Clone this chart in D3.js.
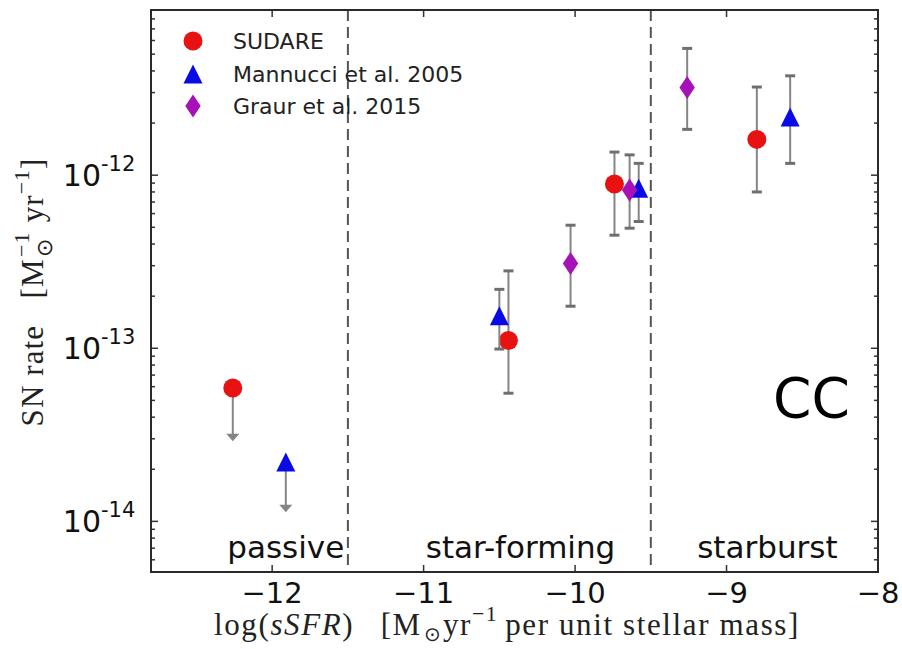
<!DOCTYPE html>
<html>
<head>
<meta charset="utf-8">
<script src="https://cdn.jsdelivr.net/npm/d3@7"></script>
<style>
  html, body { margin: 0; padding: 0; background: #fff; }
  svg { display: block; }
</style>
</head>
<body>
<svg id="chart" width="902" height="649"></svg>
<script>
// Core-collapse SN rate per unit stellar mass versus specific star-formation rate.
// x: log(sSFR); rates in SN per solar mass per year.
const sudareX = [-12.26, -10.44, -9.74, -8.80];
const sudareRate = [5.9e-14, 1.11e-13, 8.9e-13, 1.61e-12];
const sudareLow = [2.9e-14, 5.5e-14, 4.5e-13, 8.0e-13];
const sudareHigh = [null, 2.8e-13, 1.36e-12, 3.23e-12];
const sudareUpperLimit = [true, false, false, false];

const mannucciX = [-11.91, -10.50, -9.58, -8.58];
const mannucciRate = [2.2e-14, 1.54e-13, 8.4e-13, 2.17e-12];
const mannucciLow = [1.13e-14, 9.9e-14, 5.4e-13, 1.17e-12];
const mannucciHigh = [null, 2.19e-13, 1.17e-12, 3.75e-12];
const mannucciUpperLimit = [true, false, false, false];

const graurX = [-10.03, -9.64, -9.26];
const graurRate = [3.09e-13, 8.2e-13, 3.21e-12];
const graurLow = [1.75e-13, 4.94e-13, 1.84e-12];
const graurHigh = [5.14e-13, 1.31e-12, 5.4e-12];
const graurUpperLimit = [false, false, false];

const seriesNames = ["SUDARE", "Mannucci et al. 2005", "Graur et al. 2015"];
const xTickValues = [-12, -11, -10, -9, -8];
const yTickValues = [1e-14, 1e-13, 1e-12];
const yTickExponents = ["-14", "-13", "-12"];
const regionBounds = [-11.5, -9.5];
const regionNames = ["passive", "star-forming", "starburst"];
const regionLabelX = [-11.91, -10.36, -8.73];
const panelTag = "CC";

(function () {
const svg = d3.select("#chart");
const pL = 151, pR = 878, pT = 10, pB = 572;

const x = d3.scaleLinear().domain([-12.8, -8]).range([pL, pR]);
const y = d3.scaleLog().domain([5.1e-15, 9e-12]).range([pB, pT]);

const SANS = "DejaVu Sans, Verdana, sans-serif";
const SERIF = "Liberation Serif, Times New Roman, serif";
const ERR = "#858585";

// region dividers
svg.append("g").selectAll("line").data(regionBounds).join("line")
  .attr("x1", d => x(d)).attr("x2", d => x(d))
  .attr("y1", pT).attr("y2", pB)
  .attr("stroke", "#555").attr("stroke-width", 2)
  .attr("stroke-dasharray", "11,6");

// region labels
svg.append("g").selectAll("text").data(regionNames).join("text")
  .attr("x", (d, i) => x(regionLabelX[i])).attr("y", 558)
  .attr("text-anchor", "middle")
  .attr("font-family", SANS).attr("font-size", 31).attr("fill", "#111")
  .text(d => d);

svg.append("text").attr("x", 773).attr("y", 417)
  .attr("font-family", SANS).attr("font-size", 55).attr("fill", "#000")
  .text(panelTag);

// axis ticks (inward, all four sides)
const axisG = svg.append("g").attr("stroke", "#333").attr("stroke-width", 1.5);
const majorLen = 7, minorLen = 4;
xTickValues.forEach(v => {
  const px = x(v);
  if (px > pL + 1 && px < pR - 1) {
    axisG.append("line").attr("x1", px).attr("x2", px).attr("y1", pB).attr("y2", pB - majorLen);
    axisG.append("line").attr("x1", px).attr("x2", px).attr("y1", pT).attr("y2", pT + majorLen);
  }
});
const [yMin, yMax] = y.domain();
for (let e = -15; e <= -12; e++) {
  for (let k = 1; k <= 9; k++) {
    const v = k * Math.pow(10, e);
    if (v < yMin || v > yMax) continue;
    const py = y(v), len = k === 1 ? majorLen : minorLen;
    axisG.append("line").attr("x1", pL).attr("x2", pL + len).attr("y1", py).attr("y2", py);
    axisG.append("line").attr("x1", pR).attr("x2", pR - len).attr("y1", py).attr("y2", py);
  }
}

// tick labels
svg.append("g").selectAll("text").data(xTickValues).join("text")
  .attr("x", d => x(d)).attr("y", 603)
  .attr("text-anchor", "middle")
  .attr("font-family", SANS).attr("font-size", 29).attr("fill", "#111")
  .text(d => d3.format("d")(d).replace("-", "\u2212"));

const yLab = svg.append("g");
yTickValues.forEach((v, i) => {
  const py = y(v);
  yLab.append("text").attr("x", 101).attr("y", py + 11)
    .attr("text-anchor", "end")
    .attr("font-family", SANS).attr("font-size", 30).attr("fill", "#111")
    .text("10");
  yLab.append("text").attr("x", 101).attr("y", py - 4)
    .attr("font-family", SANS).attr("font-size", 21).attr("fill", "#111")
    .text(yTickExponents[i]);
});

// frame
svg.append("rect").attr("x", pL).attr("y", pT)
  .attr("width", pR - pL).attr("height", pB - pT)
  .attr("fill", "none").attr("stroke", "#2a2a2a").attr("stroke-width", 2);

// text made of runs (sub/superscripts), stretched to a given width
function mathText(parent, runs, opts) {
  const g = parent.append("g");
  const base = opts.size;
  const els = runs.map(r => g.append("text")
    .attr("font-family", SERIF)
    .attr("font-size", base * (r.scale || 1))
    .attr("font-style", r.italic ? "italic" : null)
    .attr("fill", "#222")
    .text(r.t));
  const nChars = runs.reduce((s, r) => s + r.t.length, 0);
  function layout(ls) {
    let cur = 0, prevStart = 0;
    els.forEach((el, i) => {
      const r = runs[i];
      el.attr("letter-spacing", ls);
      const start = r.stack ? prevStart : cur + (r.gap || 0) * base;
      el.attr("x", start).attr("y", -(r.shift || 0) * base);
      const w = el.node().getComputedTextLength();
      if (!r.stack) prevStart = start;
      cur = Math.max(cur, start + w);
    });
    return cur;
  }
  const w0 = layout(0);
  const ls = (opts.width - w0) / nChars;
  const w1 = layout(ls);
  g.attr("transform", opts.rotate
    ? `translate(${opts.x},${opts.y}) rotate(-90) translate(${-w1 / 2},0)`
    : `translate(${opts.x - w1 / 2},${opts.y})`);
  return g;
}

mathText(svg, [
  { t: "log(" },
  { t: "sSFR", italic: true },
  { t: ")" },
  { t: "[M", gap: 0.85 },
  { t: "\u2299", scale: 0.65, shift: -0.2, gap: 0.08 },
  { t: "yr" },
  { t: "\u22121", scale: 0.7, shift: 0.45 },
  { t: "per unit stellar mass]", gap: 0.22 }
], { size: 31, x: 507, y: 635, width: 586 });

mathText(svg, [
  { t: "SN rate" },
  { t: "[M", gap: 0.85 },
  { t: "\u2299", scale: 0.7, shift: -0.3, gap: 0.05 },
  { t: "\u22121", scale: 0.7, shift: 0.45, stack: true },
  { t: "yr", gap: 0.3 },
  { t: "\u22121", scale: 0.7, shift: 0.45 },
  { t: "]" }
], { size: 31, x: 43, y: 292, width: 270, rotate: true });

// marker outlines
const markerShapes = {
  circle: r => `M${-r},0A${r},${r} 0 1,0 ${r},0A${r},${r} 0 1,0 ${-r},0Z`,
  triangle: s => `M0,${-s}L${s},${s}L${-s},${s}Z`,
  diamond: s => `M0,${-s * 1.5}L${s},0L0,${s * 1.5}L${-s},0Z`
};

const series = [
  { name: seriesNames[0], xs: sudareX, v: sudareRate, lo: sudareLow, hi: sudareHigh, ul: sudareUpperLimit,
    color: "#e81212", shape: markerShapes.circle(9.5) },
  { name: seriesNames[1], xs: mannucciX, v: mannucciRate, lo: mannucciLow, hi: mannucciHigh, ul: mannucciUpperLimit,
    color: "#0a0ae6", shape: markerShapes.triangle(9.5) },
  { name: seriesNames[2], xs: graurX, v: graurRate, lo: graurLow, hi: graurHigh, ul: graurUpperLimit,
    color: "#a712b8", shape: markerShapes.diamond(7.7) }
];

const plot = svg.append("g");
series.forEach(s => {
  const pts = s.xs.map((xv, i) => ({ x: xv, v: s.v[i], lo: s.lo[i], hi: s.hi[i], ul: s.ul[i] }));
  const eg = plot.append("g");
  pts.forEach(p => {
    const px = x(p.x);
    if (p.ul) {
      const tip = y(p.lo);
      eg.append("line").attr("x1", px).attr("x2", px)
        .attr("y1", y(p.v)).attr("y2", tip - 6)
        .attr("stroke", ERR).attr("stroke-width", 2);
      eg.append("path")
        .attr("d", `M${px - 6.5},${tip - 7.5}L${px + 6.5},${tip - 7.5}L${px},${tip}Z`)
        .attr("fill", ERR);
    } else {
      eg.append("line").attr("x1", px).attr("x2", px)
        .attr("y1", y(p.hi)).attr("y2", y(p.lo))
        .attr("stroke", ERR).attr("stroke-width", 2);
      [p.hi, p.lo].forEach(c => {
        eg.append("line").attr("x1", px - 5).attr("x2", px + 5)
          .attr("y1", y(c)).attr("y2", y(c))
          .attr("stroke", "#6f6f6f").attr("stroke-width", 3);
      });
    }
  });
  plot.append("g").selectAll("path").data(pts).join("path")
    .attr("transform", d => `translate(${x(d.x)},${y(d.v)})`)
    .attr("d", s.shape)
    .attr("fill", s.color);
});

// legend
const legend = svg.append("g");
const legendY = [41, 74, 106];
series.forEach((s, i) => {
  legend.append("path")
    .attr("transform", `translate(193,${legendY[i]})`)
    .attr("d", s.shape).attr("fill", s.color);
  legend.append("text").attr("x", 233).attr("y", legendY[i] + 8)
    .attr("font-family", SANS).attr("font-size", 22).attr("fill", "#222")
    .text(s.name);
});
})();
</script>
</body>
</html>
